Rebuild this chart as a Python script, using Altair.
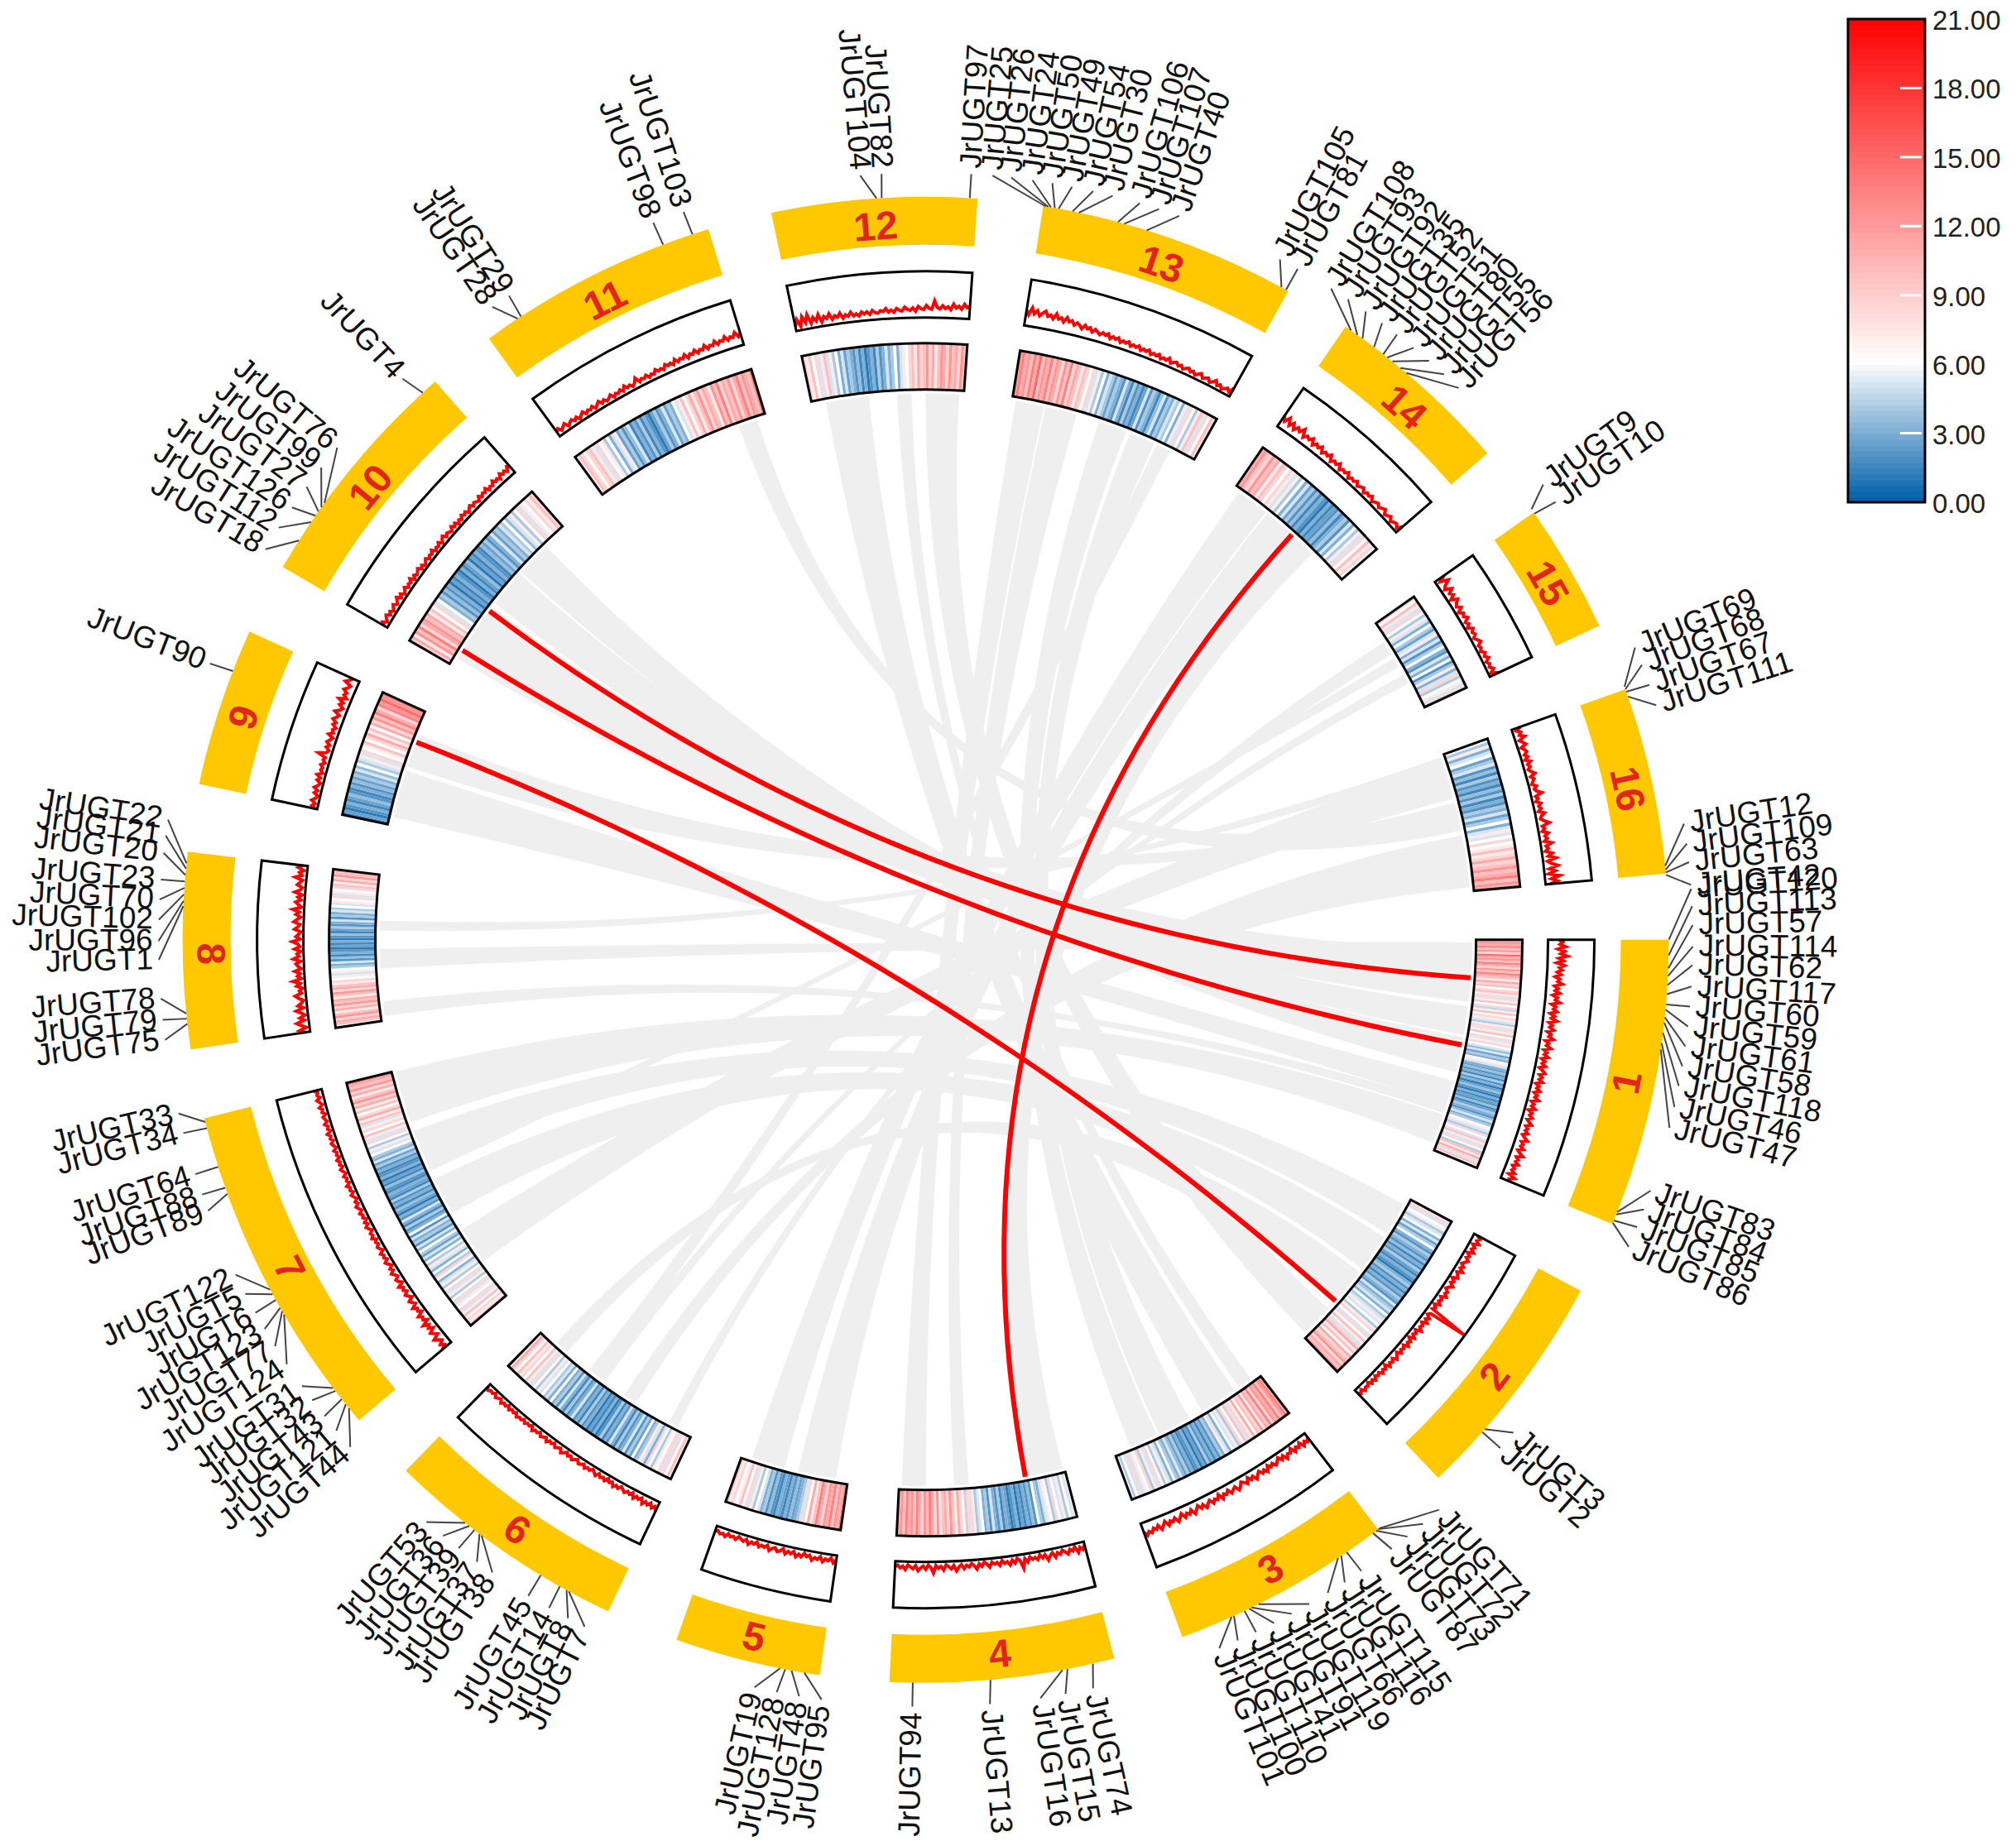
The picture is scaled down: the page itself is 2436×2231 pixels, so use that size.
import math
import altair as alt

W, H = 2420, 2215
CX, CY = 1110.6, 1127.7
FONT = "Liberation Sans"

sector_names = [str(i) for i in range(1, 17)]
sector_start = [90, 118.2, 142.5, 165.3, 188.2, 205.3, 229.7, 261.5, 282.1, 300.1, 324, 348, 369.1, 394.4, 414.9, 430.3]
sector_end = [112.5, 136.4, 159.8, 182.8, 199.6, 224.4, 256.1, 276.8, 294.5, 318.7, 343, 364, 389.2, 409.1, 425, 444.9]

heat = [
 [9,11,10,12,9,11,8,13,10,11,9,12,10,8,11,9,12,10,9,7,10,8,9,6,8,9,7,8,5,7,9,6,8,4.5,7,9,6,8,7,5,4,7,8,5,7,9,6,8,5,7,8,6,5,3.5,5,2.5,4,3,6,7,5,3,2.5,3.5,2,3,1.5,4,2,3,1,2.5,3.5,2,1,3,1.5,2.5,2,3.5,1.5,2.5,4,3,2,3.5,5,3,4,6,7,5,4,8,6,5,9,7,5,8,6,4,9,7,10,8,5,9,6],
 [7,8,5,6,7,4,5,6,3,5,2.5,4,6,3,2,4,3,2,3.5,1.5,3,2,4,2.5,1.5,3,2,1,3,4,2,3,1.5,3,2,4,3,2,5,3,4,5,3,6,4,5,7,5,6,4,7,8,6,5,8,6,9,7,5,8,10,7,9,6,10,8,9,11,8,10,9,11],
 [10,12,11,9,12,10,11,8,12,9,10,7,11,8,9,6,10,7,8,5,9,6,8,4,7,5,6,3,5,7,3,4,2,3,1.5,3,2,4,1.5,2.5,1,3,2,1.5,3,2,4,2.5,3.5,5,3,4,6,3,5,7,4,6,8,5,7,4,8,6,7,5,8,5,6,4,7],
 [7,5,6,4,7,5,6,8,4,6,7,5,3,4,6,2,3.5,2,3,1.5,2.5,1,3,2,1,2.5,3,1.5,4,2,3,5,2,4,3,6,5,4,7,8,5,9,6,8,10,7,9,11,8,10,9,7,11,8,10,12,9,11,8,10,12,9,11,10,12,9,11,10],
 [12,10,11,9,12,10,11,8,10,12,9,7,10,6,8,5,4,3,2.5,3.5,2,3,1.5,2.5,3,1.5,2,3.5,2,4,3,5,6,4,7,5,8,6,9,7,6,8,7,9],
 [7,9,6,8,5,8,6,7,4,6,8,3,5,7,4,3,6,2.5,4,2,5,3,2,4,1.5,3,5,2,3,1.5,4,2,1,3,1.5,2.5,1,3,2,4,1.5,3,2,5,3,2,4,1.5,3,5,2,4,3,6,3,5,4,6,5,7,4,6,8,5,7,9,6,8,7,9,6,8,10,7],
 [9,7,8,6,9,7,5,8,6,7,5,8,6,4,7,5,8,6,4,7,5,3,6,8,4,6,3,5,7,4,6,3,5,2.5,4,6,3,5,2,4,3,5,2,6,3,2,4,1.5,3,5,2,3,1,2.5,3.5,1.5,3,2,4,1.5,2.5,3,1.5,2,3.5,1.5,2.5,1,3,2,1.5,3,2,4,2.5,5,3,4,6,5,7,4,6,8,5,7,9,6,8,7,5,9,7,10,8,6,9,7,10,8,11,9,7,10,8,11,9,10,12],
 [6,9,10,8,11,9,7,10,8,11,9,10,7,9,11,8,10,9,7,8,6,7,5,7,6,4,3,5,2,3.5,1.5,3,2,1,2.5,1.5,3,1,2,3.5,1.5,2.5,4,2,3,5,2,4,3,5,4,6,5,7,6,8,5,7,6,8,9,7,10,8,11,9,10],
 [1.5,2.5,1,2,3,1.5,2.5,3.5,2,1.5,3,2,3.5,2.5,4,3,5,3.5,6,4,5,7,5,8,6,7,9,6,8,10,7,9,6,10,8,11,9,12,10,8,12,11,13,11,12],
 [8,10,7,11,9,12,8,10,11,9,10,7,9,6,8,5,6,3,4,2,3.5,2,3,1,2.5,1.5,3,2,1,3,1.5,2.5,3.5,1,2.5,1.5,3,2,1.5,3.5,2.5,4,2,3,5,2.5,4,3,5,4,6,3.5,5,7,4,6,8,5,7,6,8,7,9,8],
 [7,9,8,6,8,9,7,5,8,6,7,4,6,3,5,7,2.5,4,2,3.5,5,1.5,3,2,4,1.5,3,2,1,2.5,4,2,3,5,2.5,4,3,6,5,7,9,6,8,10,7,9,11,8,10,9,7,11,9,12,8,10,9,11,8,10,12,9,11,10,9,12],
 [8,7,9,6,8,5,7,9,5,7,4,6,3,5,2.5,4,3,2,3.5,1.5,3,1,2,3,1.5,4,2,3,5,3,4,6,3,5,7,6,8,9,7,10,8,9,11,8,10,7,9,11,10,8,11,9,10,8,11,9],
 [11,12,10,11,9,12,10,13,9,11,10,12,9,11,10,8,11,9,12,8,10,9,7,9,8,6,8,5,7,4,6,3,5,4,2.5,4,3,2,5,3,1.5,4,2,3,1.5,2.5,5,2,4,3,1.5,3.5,5,2,4,3,5,4,6,3,7,5,8,6,4,7,9,5,8,6,9,7],
 [10,11,9,8,11,9,10,7,9,8,6,8,7,5,7,4,6,3,5,2.5,4,2,3.5,1.5,3,2,1,3,1.5,2.5,2,3.5,1.5,3,4,2,5,3,6,4,7,5,8,6,9,7,8,6],
 [8,6,9,7,5,8,6,4,7,5,3,6,4,2.5,5,7,3,5,2,4,6,3,2,5,3,6,2,4,7,3,5,8,4,6,7,5,8],
 [6,4,7,3,5,6,2.5,4,5,2,3.5,1.5,4,2,3,1.5,3.5,2,4,1.5,3,2,4,3,5,2.5,4,6,3,5,7,5,6,8,6,7,9,7,8,10,8,9,11,9,10,12,9,11,10],
]

line = [
 [24,32,26,38,22,36,28,42,24,34,20,36,26,32,22,30,18,28,24,34,18,26,20,30,16,26,22,32,15,24,20,28,14,24,18,30,14,22,17,26,13,22,18,28,12,20,16,26,12,20,15,24,11,19,14,22,10,18,24,13,20,15,23,10,18,14,22,11,19,15,24,10,17,13,22,9,18,14,21,11,17,24,13,19,15,22,12,18,26,14,20,16,24,13,19,28,15,21,17,25,14,20,16,24,13,28,18,22],
 [9,17,12,20,8,16,11,19,7,15,10,18,13,8,16,11,20,9,14,18,7,15,10,19,12,8,16,13,20,9,15,11,18,7,14,10,100,13,8,17,11,19,9,15,12,20,8,14,10,18,7,16,12,19,9,15,11,17,8,14,19,10,16,12,18,7,15,11,17,9,13,8,16,10,15,7,13,11,16,8,14,9],
 [10,18,13,21,9,17,12,20,8,16,14,22,11,18,9,15,20,12,17,10,22,14,19,11,16,23,13,18,10,21,15,11,19,24,13,17,22,12,19,15,24,11,20,16,23,13,18,25,15,21,12,19,26,14,22,17,24,13,20,27,16,22,18,26,14,21,28,17,24,19,27,22,29,20],
 [7,16,10,20,6,14,9,18,12,7,15,10,19,8,13,22,9,15,7,17,11,14,8,18,10,30,12,7,16,9,19,11,14,7,17,10,13,8,18,11,6,15,9,20,12,7,14,10,17,8,13,21,9,16,11,7,18,10,14,8,24,12,7,16,9,13,19,8,15,11,7,17,10,14,8,12],
 [9,17,7,14,11,18,8,15,12,19,9,13,7,16,11,18,8,14,10,17,7,13,16,9,12,18,8,14,11,16,7,13,10,17,8,14,11,7,15,10,13,8,16,11,14,9,12],
 [22,13,19,10,17,12,20,9,15,11,18,8,14,10,16,12,8,15,11,17,9,13,7,15,10,14,8,16,11,7,13,10,15,8,12,14,7,11,15,9,13,7,12,16,8,11,14,7,12,9,15,8,11,14,7,12,10,15,6,11,9,13,7,12,10,14,7,11,8,13,6,12,9,14,7,10,13,6,11,9,13,7],
 [24,14,21,12,18,25,11,17,22,10,19,13,24,9,17,14,21,8,15,12,20,9,14,18,7,13,17,9,15,11,19,7,13,16,8,12,17,9,14,6,12,16,8,13,10,15,6,11,14,8,12,7,15,10,13,6,11,15,8,13,6,12,9,14,7,11,15,8,12,6,10,14,7,12,9,15,6,11,8,13,6,10,14,7,12,9,14,6,11,8,13,6,10,13,7,12,9,15,6,11,8,14,7,10,13,6,12,9,15,7,11,16,8,13,10,17],
 [10,22,7,17,26,9,18,6,14,24,8,19,11,6,16,23,9,13,6,18,10,25,7,15,9,20,6,13,17,7,22,10,14,6,19,8,12,24,7,16,10,6,19,12,8,21,14,7,17,10,24,6,13,19,8,15,6,22,11,7,18,13,8,24,10,16,7,20,12],
 [5,13,7,16,9,5,14,8,17,10,6,15,9,18,7,13,10,16,8,14,11,28,12,8,16,10,18,13,8,20,11,15,9,18,13,22,16,12,24,15,10,20,14,26,11,19,15,24,17,13,28,20,15],
 [8,15,6,12,16,8,13,6,11,15,7,12,17,8,14,6,10,15,7,12,9,16,6,13,8,11,15,7,12,5,10,14,7,12,9,15,6,11,8,14,6,12,16,8,13,10,7,15,9,14,6,12,8,15,10,14,7,12,16,9,14,11,8,16,10,15,12,18,9,14,11,19,13,16,10,20,14,18,12,21,15],
 [11,16,8,13,17,7,12,15,9,14,6,12,16,8,13,10,15,7,12,17,9,14,8,11,16,7,13,10,15,9,18,11,14,8,13,22,10,15,12,17,9,14,11,19,13,16,11,20,15,18,12,22,14,19,16,23,13,20,17,24,15,21,18,26,16,22,19,27,18,24,21,29,19,25,22,31,20,27],
 [10,24,8,28,14,30,10,22,13,26,9,20,15,24,11,18,14,22,10,17,13,21,12,16,11,19,14,18,12,20,15,13,18,16,22,14,18,13,21,17,15,23,18,16,21,14,24,19,17,26,20,18,36,22,19,26,20,24,18,30,22,26,20,31,24,28],
 [34,24,40,28,36,26,33,38,28,32,25,37,27,31,23,34,26,30,22,28,24,18,27,21,25,17,24,20,16,22,18,23,14,20,16,21,13,18,15,20,12,17,14,19,11,16,13,18,10,15,12,17,9,14,11,18,9,13,16,10,14,8,12,15,9,13,7,12,16,8,11,14,7,11,17,8,13,6,10,14,8,20],
 [28,18,30,16,26,14,24,18,29,13,21,17,24,12,20,15,22,11,18,14,21,9,16,12,19,8,14,11,17,7,13,10,16,8,12,15,7,13,10,15,6,11,14,8,12,16,7,10,14,6,11,13,7,18],
 [24,10,26,14,8,22,12,18,7,20,13,9,17,6,15,11,18,8,13,6,16,10,14,7,12,17,8,11,6,14,9,16,7,12,8,15,6,22],
 [20,9,17,12,22,8,14,19,7,13,16,9,15,7,18,10,14,8,13,20,9,15,11,7,16,10,14,24,9,13,7,17,11,15,8,20,12,9,16,26,10,14,8,20,12,16,9,24,11,15,8,22,13,28,10,17,30,12,24,9,32,14,26,10],
]

# genes: name, point on the block, tip of the leader (degrees clockwise from the top)
label_names = [
 "JrUGT12","JrUGT109","JrUGT63","JrUGT42",
 "JrUGT120","JrUGT113","JrUGT57","JrUGT114","JrUGT62","JrUGT117","JrUGT60","JrUGT59","JrUGT61","JrUGT58","JrUGT118","JrUGT46","JrUGT47",
 "JrUGT83","JrUGT84","JrUGT85","JrUGT86","JrUGT3","JrUGT2",
 "JrUGT71","JrUGT72","JrUGT73","JrUGT87",
 "JrUGT115","JrUGT116","JrUGT66","JrUGT119","JrUGT91","JrUGT41","JrUGT110","JrUGT100","JrUGT101",
 "JrUGT74","JrUGT15","JrUGT16","JrUGT13","JrUGT94",
 "JrUGT95","JrUGT48","JrUGT128","JrUGT19",
 "JrUGT7","JrUGT8","JrUGT14","JrUGT45","JrUGT38","JrUGT37","JrUGT39","JrUGT36","JrUGT53",
 "JrUGT44","JrUGT121","JrUGT43","JrUGT32","JrUGT31","JrUGT124","JrUGT77","JrUGT123","JrUGT6","JrUGT5","JrUGT122",
 "JrUGT89","JrUGT88","JrUGT64","JrUGT34","JrUGT33",
 "JrUGT75","JrUGT79","JrUGT78","JrUGT1","JrUGT96","JrUGT102","JrUGT70","JrUGT23","JrUGT20","JrUGT21","JrUGT22",
 "JrUGT90",
 "JrUGT18","JrUGT112","JrUGT126","JrUGT27","JrUGT99","JrUGT76","JrUGT4",
 "JrUGT28","JrUGT29","JrUGT98","JrUGT103","JrUGT104","JrUGT82",
 "JrUGT97","JrUGT25","JrUGT26","JrUGT24","JrUGT50","JrUGT49","JrUGT54","JrUGT30","JrUGT106","JrUGT107","JrUGT40","JrUGT105","JrUGT81",
 "JrUGT108","JrUGT93","JrUGT92","JrUGT35","JrUGT52","JrUGT51","JrUGT80","JrUGT55","JrUGT56",
 "JrUGT9","JrUGT10","JrUGT69","JrUGT68","JrUGT67","JrUGT111",
]
label_anchor = [
 84.3,84.6,84.8,85,
 90,91.2,92.2,92.8,93.5,94.2,95,95.4,96,96.4,97.2,98,98.5,
 111.5,111.7,112.2,112.4,131.2,131.5,
 142.4,142.5,142.7,143,
 145.5,146,146.3,153.4,154,154.2,154.6,155.5,155.7,
 167,169,169.4,175,181,
 189.4,190.4,190.9,191.3,
 208.7,208.9,209.5,211.2,216.7,216.9,217.4,217.9,218.3,
 230.9,231.3,231.8,232.6,232.9,239.7,240,240.3,241,241.5,241.9,
 250,250.5,252.2,255.3,255.8,
 263.5,263.9,264.3,272.6,273,273.5,274,274.5,275,275.5,275.9,
 291.2,
 302.5,304.2,304.8,305.2,305.6,306,317.4,
 326.7,327,339.3,341.7,356.2,356.6,
 3.4,9.3,9.5,9.7,10,10.3,11.4,11.9,15,15.5,17.3,28.6,29,
 34.9,35.5,36,37.1,38,38.4,38.9,39.7,40.3,
 54.6,55,70.1,70.3,70.5,70.9,
]
label_tip = [
 81.3,82.8,84.2,85.9,
 86.2,87.5,88.9,90.5,91.9,93.5,95,96.5,98,99.5,101,102.6,104.2,
 109.1,110.6,112,113.6,130,131.5,
 138,139.6,141.1,142.6,
 145.4,146.9,148.4,150,151.5,153,154.5,156,157.5,
 167.4,169.5,171.4,175.2,181,
 187.8,189.5,191.2,192.9,
 206.4,207.8,209.4,211.2,214.4,215.8,217.5,219,220.6,
 228.6,230.2,231.6,233.1,234.4,236.4,238,239.5,240.9,242.5,244.1,
 249.3,250.6,252.2,255.4,256.9,
 262.5,264,265.6,268.5,269.9,271.5,273,274.5,276.5,277.8,279,
 291.1,
 300.6,302.5,304.3,306.2,308,309.9,317,
 325.6,327.1,339.2,341.6,355.1,356.7,
 3.4,5,6.4,8,9.5,11,12.6,14.1,16.2,17.7,19.3,27.5,29,
 31.9,33.4,35,36.5,37.9,39.5,41,42.5,44,
 53.6,55.2,67.6,69,70.6,72.2,
]

link_a0 = [301,308,312.3,283,288.5,267,262,250.5,246,240,234,221,212,207,195,189.5,180,175.5,165.5,155,151.2,145.6,143.5,132.5,340,59,61,70.5,216.5]
link_a1 = [307.5,312,316,288,292,269,263.5,256,249.5,244,238,222.5,213.5,208,198.5,193.5,182.5,177,169.5,158,154.7,149.6,145,136,342,60,62,71.5,218]
link_b0 = [91,97,100.3,105,75.5,90.3,107.5,108.7,119,123,71,127.5,79,57,35,38.7,9.5,12.7,42.5,18.5,22,-10.5,-3,0,76,245,216,271,25]
link_b1 = [96.5,100,104,107.5,77,91.5,108.5,111.8,122.5,127,75,131.5,84.5,58.5,38.5,42,12.5,16,45,21.5,24.7,-6,-1.5,3.5,78.5,246,217,272,26.5]

red_a = [94, 101.1, 131.4, 42.1]
red_b = [307, 302, 291.2, 169.5]

bar_ticks = [0, 3, 6, 9, 12, 15, 18, 21]
bar_steps = [i / 4 for i in range(84)]

R_RING = (840, 898)
R_LINE = (752, 808)
R_HEAT = (665, 721)
R_LINK = 660
R_TIP = 927
R_TEXT = 934
R_NUM = 866
BAR_X0, BAR_X1, BAR_TOP, BAR_LEN = 2225, 2318, 15, 584


def pol(deg, r):
    a = math.radians(deg)
    return r * math.sin(a), -r * math.cos(a)


def bez(p0, p1, n=40):
    out = []
    for i in range(1, n):
        t = i / n
        out.append(((1 - t) ** 2 * p0[0] + (t ** 2) * p1[0], (1 - t) ** 2 * p0[1] + (t ** 2) * p1[1]))
    return out


def bar_y(v):
    return BAR_TOP + (21 - v) / 21 * BAR_LEN - CY


xs = alt.Scale(domain=[-CX, W - CX], range=[0, W])
ys = alt.Scale(domain=[-CY, H - CY], range=[0, H])
colors = alt.Scale(domain=[0, 6, 21], range=["#0060aa", "#ffffff", "#ff0000"], interpolate="rgb")
X0 = alt.X(datum=0, scale=xs, axis=None)
Y0 = alt.Y(datum=0, scale=ys, axis=None)
XF = alt.X("x:Q", scale=xs, axis=None)
YF = alt.Y("y:Q", scale=ys, axis=None)

# ribbons
features = []
for a0, a1, b0, b1 in zip(link_a0, link_a1, link_b0, link_b1):
    pts = [pol(a0 + (a1 - a0) * i / 8, R_LINK) for i in range(9)]
    pts += bez(pts[-1], pol(b0, R_LINK))
    arc2 = [pol(b0 + (b1 - b0) * i / 8, R_LINK) for i in range(9)]
    pts += arc2
    pts += bez(arc2[-1], pol(a0, R_LINK))
    pts.append(pts[0])
    features.append({"type": "Feature", "properties": {}, "geometry": {"type": "Polygon", "coordinates": [[list(p) for p in pts]]}})
ribbons = alt.Chart(alt.Data(values=features)).mark_geoshape(fill="#efefef", stroke="#efefef", strokeWidth=0.5).project(
    type="identity", scale=1, translate=[CX, CY])

# red links
red_rows = []
for i, (a, b) in enumerate(zip(red_a, red_b)):
    p0, p1 = pol(a, R_LINK), pol(b, R_LINK)
    for j, p in enumerate([p0] + bez(p0, p1) + [p1]):
        red_rows.append({"k": i, "o": j, "x": p[0], "y": p[1]})
red_links = alt.Chart(alt.Data(values=red_rows)).mark_line(color="#ff0000", strokeWidth=6).encode(
    x=XF, y=YF, detail="k:N", order="o:Q")

# outer blocks and frames
sec_rows = [{"n": n, "a0": math.radians(a), "a1": math.radians(b)} for n, a, b in zip(sector_names, sector_start, sector_end)]
def ring(inner, outer, **kw):
    return alt.Chart(alt.Data(values=sec_rows)).mark_arc(innerRadius=inner, outerRadius=outer, **kw).encode(
        x=X0, y=Y0, theta=alt.Theta("a0:Q", scale=None), theta2=alt.Theta2("a1:Q"))
blocks = ring(*R_RING, fill="#ffc800")
line_frame = ring(*R_LINE, fillOpacity=0, stroke="black", strokeWidth=3)
heat_frame = ring(*R_HEAT, fillOpacity=0, stroke="black", strokeWidth=3)

# heat cells (values above the white point read a little stronger in the reference)
cell_rows = []
for a, b, vals in zip(sector_start, sector_end, heat):
    step = (b - a) / len(vals)
    for i, v in enumerate(vals):
        shown = v if v <= 6 else 6 + (v - 6) * 1.25
        cell_rows.append({"v": shown, "a0": math.radians(a + i * step), "a1": math.radians(a + (i + 1) * step)})
cells = alt.Chart(alt.Data(values=cell_rows)).mark_arc(innerRadius=R_HEAT[0], outerRadius=R_HEAT[1]).encode(
    x=X0, y=Y0, theta=alt.Theta("a0:Q", scale=None), theta2=alt.Theta2("a1:Q"),
    color=alt.Color("v:Q", scale=colors, legend=None))

# red density lines
line_rows = []
for k, (a, b, vals) in enumerate(zip(sector_start, sector_end, line)):
    step = (b - a) / (len(vals) - 1)
    for i, v in enumerate(vals):
        r = R_LINE[0] + (R_LINE[1] - R_LINE[0]) * v / 100
        x, y = pol(a + i * step, r)
        line_rows.append({"k": k, "o": i, "x": x, "y": y})
density = alt.Chart(alt.Data(values=line_rows)).mark_line(color="#ff0000", strokeWidth=4).encode(
    x=XF, y=YF, detail="k:N", order="o:Q")

# block numbers
num_rows = []
for n, a, b in zip(sector_names, sector_start, sector_end):
    m = (a + b) / 2
    x, y = pol(m, R_NUM)
    m360 = m % 360
    rot = m360 if (m360 < 90 or m360 > 270) else (m360 - 180) % 360
    num_rows.append({"n": n, "x": x, "y": y + 4, "rot": rot})
numbers = alt.Chart(alt.Data(values=num_rows)).mark_text(font=FONT, fontWeight="bold", fontSize=48, color="#e1251b", baseline="middle", align="center").encode(
    x=XF, y=YF, text="n:N", angle=alt.Angle("rot:Q", scale=None))

# leaders and names
lead_rows, right_rows, left_rows = [], [], []
for name, a, t in zip(label_names, label_anchor, label_tip):
    x0, y0 = pol(a, R_RING[1])
    x1, y1 = pol(t, R_TIP)
    lead_rows.append({"x": x0, "y": y0, "x2": x1, "y2": y1})
    tx, ty = pol(t, R_TEXT)
    if t % 360 < 180:
        right_rows.append({"t": name, "x": tx, "y": ty, "rot": (t - 90) % 360})
    else:
        left_rows.append({"t": name, "x": tx, "y": ty, "rot": (t - 270) % 360})
leaders = alt.Chart(alt.Data(values=lead_rows)).mark_rule(color="#444444", strokeWidth=2).encode(
    x=XF, y=YF, x2="x2:Q", y2="y2:Q")
def names(rows, align):
    return alt.Chart(alt.Data(values=rows)).mark_text(font=FONT, fontSize=37, color="#111111", align=align, baseline="middle").encode(
        x=XF, y=YF, text="t:N", angle=alt.Angle("rot:Q", scale=None))

# colour bar
bar_rows = [{"v": v, "x": BAR_X0 - CX, "x2": BAR_X1 - CX, "y": bar_y(v + 0.25), "y2": bar_y(v) + 1} for v in bar_steps]
bar = alt.Chart(alt.Data(values=bar_rows)).mark_rect().encode(
    x=XF, x2="x2:Q", y=YF, y2="y2:Q", color=alt.Color("v:Q", scale=colors, legend=None))
bar_frame = alt.Chart(alt.Data(values=[{"x": BAR_X0 - CX, "x2": BAR_X1 - CX, "y": bar_y(21), "y2": bar_y(0)}])).mark_rect(
    fillOpacity=0, stroke="black", strokeWidth=3).encode(x=XF, x2="x2:Q", y=YF, y2="y2:Q")
bar_tick_rows = [{"x": BAR_X1 - 30 - CX, "x2": BAR_X1 - 4 - CX, "y": bar_y(v)} for v in bar_ticks[1:-1]]
bar_tick_marks = alt.Chart(alt.Data(values=bar_tick_rows)).mark_rule(color="white", strokeWidth=3).encode(x=XF, x2="x2:Q", y=YF)
bar_label_rows = [{"t": f"{v:.2f}", "x": BAR_X1 + 9 - CX, "y": bar_y(v) + 3} for v in bar_ticks]
bar_labels = alt.Chart(alt.Data(values=bar_label_rows)).mark_text(font=FONT, fontSize=33, color="#222222", align="left", baseline="middle").encode(
    x=XF, y=YF, text="t:N")

chart = alt.layer(ribbons, red_links, blocks, cells, heat_frame, density, line_frame, numbers, leaders,
                  names(right_rows, "left"), names(left_rows, "right"),
                  bar, bar_frame, bar_tick_marks, bar_labels).properties(
    width=W, height=H, padding=0, autosize=alt.AutoSizeParams(type="none")).configure_view(stroke=None)

chart.save("out.html", embed_options={"renderer": "svg", "actions": False})
